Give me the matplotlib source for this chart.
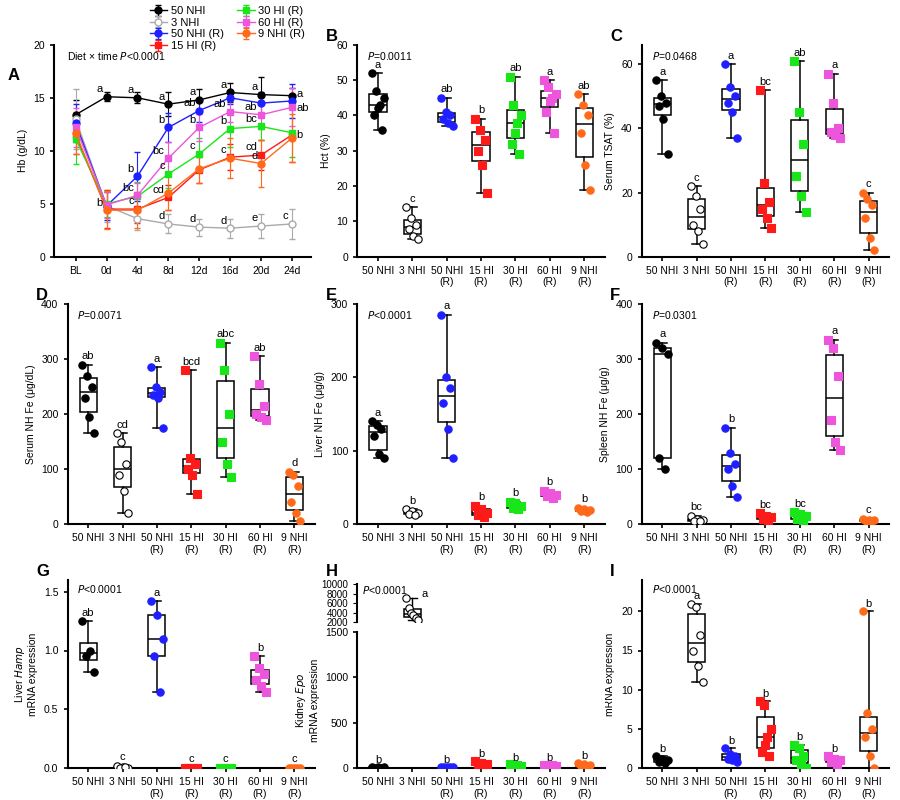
import matplotlib
matplotlib.use("Agg")
import matplotlib.pyplot as plt
import numpy as np

plt.rcParams['font.family'] = ['Liberation Sans', 'DejaVu Sans']
plt.rcParams['font.size'] = 7.5

groups = ["50 NHI", "3 NHI", "50 NHI\n(R)", "15 HI\n(R)", "30 HI\n(R)", "60 HI\n(R)", "9 NHI\n(R)"]
legend_names = ["50 NHI", "3 NHI", "50 NHI (R)", "15 HI (R)", "30 HI (R)", "60 HI (R)", "9 NHI (R)"]
colors = ["black", "white", "#1f1fff", "#ff1a1a", "#19e619", "#ee55dd", "#ff6a1a"]
line_colors = ["black", "#aaaaaa", "#1f1fff", "#ff1a1a", "#19e619", "#ee55dd", "#ff6a1a"]
markers = ["o", "o", "o", "s", "s", "s", "o"]

# Panel A
timepoints = ["BL", "0d", "4d", "8d", "12d", "16d", "20d", "24d"]
hb_mean = [
    [13.4, 15.1, 15.0, 14.4, 14.8, 15.5, 15.3, 15.2],
    [13.0, 4.8, 3.6, 3.1, 2.8, 2.7, 2.9, 3.1],
    [12.6, 4.8, 7.6, 12.2, 13.8, 15.0, 14.5, 14.7],
    [11.5, 4.5, 4.5, 5.6, 8.2, 9.4, 9.6, 11.5],
    [11.1, 5.0, 5.7, 7.8, 9.7, 12.1, 12.3, 11.7],
    [12.2, 4.9, 5.8, 9.3, 12.2, 13.7, 13.4, 14.1],
    [11.7, 4.4, 4.4, 6.0, 8.3, 9.3, 8.8, 11.2],
]
hb_sd = [
    [1.4, 0.4, 0.5, 1.1, 1.0, 0.9, 1.7, 0.7],
    [2.8, 1.5, 1.1, 0.9, 0.8, 0.9, 1.1, 1.4],
    [1.8, 1.3, 2.3, 1.4, 1.1, 0.6, 1.0, 1.6],
    [1.8, 1.8, 1.3, 1.2, 1.2, 1.2, 1.4, 2.6],
    [2.3, 1.2, 1.4, 1.3, 1.5, 1.7, 1.3, 2.3],
    [1.8, 1.2, 1.2, 1.5, 1.3, 1.0, 1.3, 1.8],
    [2.0, 1.8, 1.7, 1.6, 1.3, 1.9, 2.2, 2.3],
]
hb_letters = [
    ["", "a", "a", "a", "a", "a", "a", ""],
    ["", "", "", "d", "d", "d", "e", "c"],
    ["", "", "b", "b", "ab", "", "", ""],
    ["", "", "c", "cd", "", "c", "cd", ""],
    ["", "", "", "c", "c", "b", "bc", ""],
    ["", "", "bc", "bc", "b", "ab", "ab", ""],
    ["", "b", "", "", "", "", "d", ""],
]

# Box panels
hct = [[52, 47, 45, 43, 42, 40, 36], [14, 11, 9, 8, 6, 5], [45, 41, 40, 39, 38, 37],
       [39, 36, 33, 30, 26, 18], [51, 43, 40, 38, 35, 32, 29], [50, 48, 46, 45, 44, 41, 35],
       [46, 43, 40, 35, 26, 19]]
tsat = [[55, 50, 48, 47, 43, 32], [22, 19, 15, 10, 8, 4], [60, 53, 50, 48, 45, 37],
        [52, 23, 17, 15, 12, 9], [61, 45, 35, 25, 19, 14], [57, 48, 40, 39, 38, 37],
        [20, 18, 16, 12, 6, 2]]
serum_fe = [[290, 270, 250, 230, 195, 165], [165, 150, 110, 90, 60, 20], [285, 250, 240, 235, 230, 175],
            [280, 120, 110, 100, 90, 55], [330, 280, 200, 150, 110, 85], [305, 255, 215, 200, 195, 190],
            [95, 90, 70, 40, 20, 5]]
liver_fe = [[140, 135, 130, 120, 95, 90], [20, 18, 15, 14, 12], [285, 200, 185, 165, 130, 90],
            [25, 20, 15, 12, 10], [30, 28, 25, 22, 20], [45, 42, 40, 38, 35], [22, 20, 19, 18, 17]]
spleen_fe = [[330, 320, 310, 120, 100], [15, 10, 8, 6, 5], [175, 130, 110, 100, 70, 50],
             [20, 15, 12, 10, 8], [22, 18, 15, 10, 5], [335, 320, 270, 190, 150, 135], [10, 8, 7, 5, 5]]
hamp = [[1.25, 1.0, 0.95, 0.82], [0.02, 0.01, 0.0, 0.0, 0.01], [1.42, 1.3, 1.1, 0.95, 0.65],
        [0, 0, 0, 0, 0], [0, 0, 0, 0], [0.95, 0.85, 0.8, 0.75, 0.7, 0.65], [0, 0, 0, 0, 0]]
epo = [[10, 8, 6, 5, 4], [7000, 5000, 4000, 3500, 3000, 2500], [15, 12, 10, 8, 6],
       [80, 60, 40, 30, 20], [40, 35, 30, 25], [35, 30, 25, 20], [60, 45, 35, 25, 15]]
erfe = [[1.5, 1.2, 1.0, 0.8, 0.6], [21, 20.5, 17, 15, 13, 11], [2.5, 1.8, 1.5, 1.2, 1.0, 0.8],
        [8.5, 8, 5, 4, 3, 2, 1.5], [3, 2.5, 1.5, 1, 0.5, 0], [1.5, 1.2, 1, 0.8, 0.5], [20, 7, 5, 4, 1.5, 0]]

fig = plt.figure(figsize=(9, 8), dpi=100)

def style(ax):
    for s in ["top", "right"]:
        ax.spines[s].set_visible(False)
    for s in ["left", "bottom"]:
        ax.spines[s].set_linewidth(1.5)
    ax.tick_params(width=1.2, length=3, labelsize=7.5)

# Panel A
axA = fig.add_axes([0.06, 0.679, 0.285, 0.265])
xs = np.arange(len(timepoints))
handles = []
for i in range(7):
    mfc = "white" if i == 1 else line_colors[i]
    h = axA.errorbar(xs, hb_mean[i], yerr=hb_sd[i], color=line_colors[i], marker=markers[i],
                     ms=5, mfc=mfc, mec=line_colors[i], lw=1, capsize=2.5, elinewidth=0.8,
                     label=legend_names[i])
    handles.append(h)
    for j, t in enumerate(hb_letters[i]):
        if t:
            axA.text(xs[j] - 0.12, hb_mean[i][j] + 0.25, t, ha="right", va="bottom", fontsize=8)
axA.text(7.15, 15.4, "a", va="center", fontsize=8)
axA.text(7.15, 14.0, "ab", va="center", fontsize=8)
axA.text(7.15, 11.5, "b", va="center", fontsize=8)
axA.set_xticks(xs)
axA.set_xticklabels(timepoints)
axA.set_xlim(-0.7, 7.6)
axA.set_ylim(0, 20)
axA.set_yticks([0, 5, 10, 15, 20])
axA.set_ylabel("Hb (g/dL)")
axA.text(0.05, 0.93, "Diet × time $\\it{P}$<0.0001", transform=axA.transAxes, fontsize=7.5)
style(axA)
fig.text(0.008, 0.9, "A", fontsize=12, fontweight="bold")
fig.legend(handles=handles, labels=legend_names, ncol=2, loc="upper left",
           bbox_to_anchor=(0.155, 1.005), frameon=False, fontsize=8, handlelength=1.6,
           handletextpad=0.3, columnspacing=1.2, labelspacing=0.15)

def box_panel(rect, data, ylabel, ylim, yticks, pval, letters, letter_y, label):
    ax = fig.add_axes(rect)
    pos = np.arange(len(data))
    ax.boxplot(data, positions=pos, widths=0.5, whis=(0, 100), patch_artist=True,
               boxprops=dict(facecolor="white", edgecolor="black", lw=1.1),
               medianprops=dict(color="black", lw=1.1), whiskerprops=dict(lw=1.1),
               capprops=dict(lw=1.1), showfliers=False, zorder=1)
    for i, d in enumerate(data):
        n = len(d)
        offs = np.linspace(-0.17, 0.17, n) if n > 1 else [0]
        offs = np.array(offs)[np.argsort(np.arange(n) % 2)]
        ax.scatter(pos[i] + offs, d, s=28, marker=markers[i], c=colors[i],
                   edgecolors="black" if i == 1 else colors[i], lw=0.8, zorder=3)
    for i, t in enumerate(letters):
        ax.text(pos[i], letter_y[i], t, ha="center", va="bottom", fontsize=8)
    ax.set_xticks(pos)
    ax.set_xticklabels(groups, fontsize=7.5)
    ax.set_xlim(-0.6, 6.6)
    ax.set_ylim(*ylim)
    ax.set_yticks(yticks)
    ax.set_ylabel(ylabel, fontsize=7.5)
    if pval:
        ax.text(0.04, 0.93, pval, transform=ax.transAxes, fontsize=7.5)
    style(ax)
    if label:
        fig.text(rect[0] - 0.035, rect[1] + rect[3] + 0.005, label, fontsize=12, fontweight="bold")
    return ax

def ly(data, pad):
    return [max(d) + pad for d in data]

r1, h1 = 0.679, 0.265
r2, h2 = 0.345, 0.275
r3, h3 = 0.04, 0.235
cB, cC = 0.397, 0.713
w = 0.275

box_panel([cB, r1, w, h1], hct, "Hct (%)", (0, 60), [0, 10, 20, 30, 40, 50, 60],
          "$\\it{P}$=0.0011", ["a", "c", "ab", "b", "ab", "a", "ab"], ly(hct, 1), "B")
box_panel([cC, r1, w, h1], tsat, "Serum TSAT (%)", (0, 66), [0, 20, 40, 60],
          "$\\it{P}$=0.0468", ["a", "c", "a", "bc", "ab", "a", "c"], ly(tsat, 1), "C")
box_panel([0.075, r2, w, h2], serum_fe, "Serum NH Fe (μg/dL)", (0, 400), [0, 100, 200, 300, 400],
          "$\\it{P}$=0.0071", ["ab", "cd", "a", "bcd", "abc", "ab", "d"], ly(serum_fe, 6), "D")
box_panel([cB, r2, w, h2], liver_fe, "Liver NH Fe (μg/g)", (0, 300), [0, 100, 200, 300],
          "$\\it{P}$<0.0001", ["a", "b", "a", "b", "b", "b", "b"], ly(liver_fe, 5), "E")
box_panel([cC, r2, w, h2], spleen_fe, "Spleen NH Fe (μg/g)", (0, 400), [0, 100, 200, 300, 400],
          "$\\it{P}$=0.0301", ["a", "bc", "b", "bc", "bc", "a", "c"], ly(spleen_fe, 6), "F")
box_panel([0.075, r3, w, h3], hamp, "Liver $\\it{Hamp}$\nmRNA expression", (0, 1.6), [0, 0.5, 1.0, 1.5],
          "$\\it{P}$<0.0001", ["ab", "c", "a", "c", "c", "b", "c"], ly(hamp, 0.03), "G")
box_panel([cC, r3, w, h3], erfe, "Bone marrow $\\it{Erfe}$\nmRNA expression", (0, 24), [0, 5, 10, 15, 20],
          "$\\it{P}$<0.0001", ["b", "a", "b", "b", "b", "b", "b"], ly(erfe, 0.3), "I")

# Panel H broken axis
axH = box_panel([cB, r3, w, 0.17], epo, "Kidney $\\it{Epo}$\nmRNA expression", (0, 1500),
                [0, 500, 1000, 1500], None, ["b", "", "b", "b", "b", "b", "b"], ly(epo, 20), "")
axHt = fig.add_axes([cB, r3 + 0.182, w, 0.048])
axHt.boxplot([epo[1]], positions=[1], widths=0.5, whis=(0, 100), patch_artist=True,
             boxprops=dict(facecolor="white", lw=1.1), medianprops=dict(color="black", lw=1.1),
             showfliers=False)
axHt.scatter(1 + np.linspace(-0.17, 0.17, len(epo[1])), epo[1], s=28, c="white",
             edgecolors="black", lw=0.8, zorder=3)
axHt.set_xlim(-0.6, 6.6)
axHt.set_ylim(2000, 10000)
axHt.set_yticks([2000, 4000, 6000, 8000, 10000])
axHt.tick_params(labelsize=7, length=3)
axHt.spines["bottom"].set_visible(False)
axHt.tick_params(axis="x", bottom=False, labelbottom=False)
for s in ["top", "right"]:
    axHt.spines[s].set_visible(False)
axHt.spines["left"].set_linewidth(1.5)
axHt.text(1.35, 7300, "a", ha="center", fontsize=8)
axHt.text(0.02, 0.75, "$\\it{P}$<0.0001", transform=axHt.transAxes, fontsize=7.5)
fig.text(cB - 0.035, r3 + 0.24, "H", fontsize=12, fontweight="bold")

fig.savefig("out.png", dpi=100)
